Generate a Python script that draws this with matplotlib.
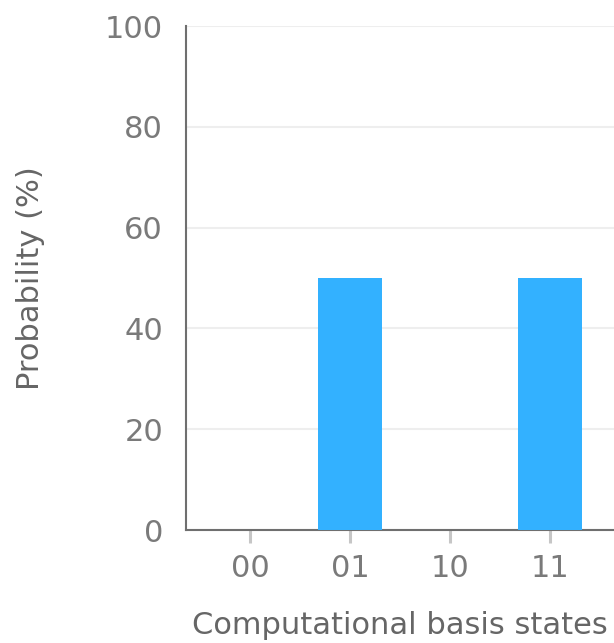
import matplotlib
matplotlib.use("Agg")
import matplotlib.pyplot as plt

states = ["00", "01", "10", "11"]
probabilities = [0, 50, 0, 50]
yticks = [0, 20, 40, 60, 80, 100]

plt.rcParams['font.family'] = ['DejaVu Sans']

fig = plt.figure(figsize=(6.14, 6.43), dpi=100)
ax = fig.add_axes([186/614, (643-530)/643, 1 - 186/614, (530-26)/643])

x = list(range(len(states)))
ax.bar(x, probabilities, width=0.64, color="#33b1ff", zorder=3)

ax.set_xlim(-0.64, 3.64)
ax.set_ylim(0, 100)
ax.set_xticks(x)
ax.set_xticklabels(states)
ax.set_yticks(yticks)
ax.yaxis.grid(True, color="#eeeeee", linewidth=1.5, zorder=0)
ax.set_axisbelow(True)

for s in ["top", "right"]:
    ax.spines[s].set_visible(False)
for s in ["left", "bottom"]:
    ax.spines[s].set_color("#6f6f6f")
    ax.spines[s].set_linewidth(1.5)

ax.tick_params(axis="y", length=0, pad=16.5, labelsize=22, labelcolor="#7a7a7a")
ax.tick_params(axis="x", length=9.4, width=2.2, color="#c6c6c6", pad=8, labelsize=22, labelcolor="#7a7a7a")

ax.set_xlabel("Computational basis states", fontsize=22, color="#666666", labelpad=20)
ax.set_ylabel("Probability (%)", fontsize=22, color="#666666", labelpad=43)

fig.savefig("out.png", dpi=100)
